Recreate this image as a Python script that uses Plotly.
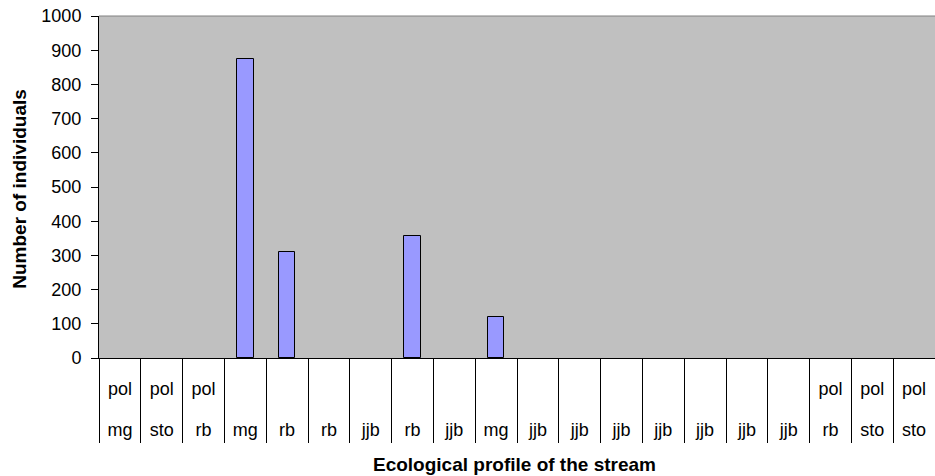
import plotly.graph_objects as go

# Stream sections: upper label row, lower label row, and fish counts
upper_labels = ["pol", "pol", "pol", "", "", "", "", "", "", "", "",
                "", "", "", "", "", "", "pol", "pol", "pol"]
lower_labels = ["mg", "sto", "rb", "mg", "rb", "rb", "jjb", "rb", "jjb", "mg",
                "jjb", "jjb", "jjb", "jjb", "jjb", "jjb", "jjb", "rb", "sto", "sto"]
counts = [0, 0, 0, 873, 310, 0, 0, 358, 0, 120,
          0, 0, 0, 0, 0, 0, 0, 0, 0, 0]

y_ticks = list(range(0, 1001, 100))

positions = list(range(len(counts)))
boundaries = [p - 0.5 for p in positions] + [positions[-1] + 0.5]

FONT = "Liberation Sans, Arial, sans-serif"
TICK_SIZE = 18
TITLE_SIZE = 19

fig = go.Figure()
fig.add_trace(go.Bar(
    x=positions, y=counts, width=0.4,
    marker=dict(color="#9999FF",
                line=dict(color="#000000",
                          width=[1 if c > 0 else 0 for c in counts])),
    xaxis="x", yaxis="y",
))

axis_common = dict(range=[-0.5, len(counts) - 0.5], showgrid=False, zeroline=False,
                   fixedrange=True)

fig.update_layout(
    width=935, height=476,
    margin=dict(l=99, r=0, t=16, b=118),
    paper_bgcolor="#FFFFFF",
    plot_bgcolor="#C0C0C0",
    showlegend=False,
    bargap=0,
    font=dict(family=FONT, size=TICK_SIZE, color="#000000"),
    # lower label row
    xaxis=dict(**axis_common, tickmode="array", tickvals=positions, ticktext=lower_labels,
               ticks="outside", ticklen=55, tickcolor="rgba(0,0,0,0)",
               tickfont=dict(family=FONT, size=TICK_SIZE, color="#000000"),
               showline=True, linecolor="#000000", linewidth=1),
    # upper label row
    xaxis2=dict(**axis_common, overlaying="x", anchor="y", side="bottom",
                tickmode="array", tickvals=positions, ticktext=upper_labels,
                ticks="outside", ticklen=14, tickcolor="rgba(0,0,0,0)",
                tickfont=dict(family=FONT, size=TICK_SIZE, color="#000000"),
                showline=False),
    # section dividers below the axis
    xaxis3=dict(**axis_common, overlaying="x", anchor="y", side="bottom",
                tickmode="array", tickvals=boundaries, showticklabels=False,
                ticks="outside", ticklen=84, tickcolor="#000000", tickwidth=1,
                showline=False),
    yaxis=dict(range=[0, 1000], tickmode="array", tickvals=y_ticks,
               ticks="outside", ticklen=7, tickcolor="#000000",
               ticklabelstandoff=6,
               tickfont=dict(family=FONT, size=TICK_SIZE, color="#000000"),
               showline=True, linecolor="#000000", linewidth=1,
               showgrid=False, zeroline=False, fixedrange=True),
)

# invisible traces so the extra axes are drawn
fig.add_trace(go.Scatter(x=[0], y=[0], xaxis="x2", yaxis="y", mode="markers",
                         marker=dict(opacity=0), hoverinfo="skip"))
fig.add_trace(go.Scatter(x=[0], y=[0], xaxis="x3", yaxis="y", mode="markers",
                         marker=dict(opacity=0), hoverinfo="skip"))

# plot-area frame on top
fig.add_shape(type="line", xref="paper", yref="paper", x0=0, x1=1, y0=1, y1=1,
              line=dict(color="#808080", width=1))

# axis titles
fig.add_annotation(text="<b>Number of individuals</b>", textangle=-90,
                   xref="paper", yref="paper", x=0, y=0.495,
                   xshift=-79, showarrow=False, xanchor="center", yanchor="middle",
                   font=dict(family=FONT, size=TITLE_SIZE, color="#000000"))
fig.add_annotation(text="<b>Ecological profile of the stream</b>",
                   xref="paper", yref="paper", x=0.4965, y=0,
                   yshift=-106, showarrow=False, yanchor="middle",
                   font=dict(family=FONT, size=TITLE_SIZE, color="#000000"))

fig.write_html("out.html")
